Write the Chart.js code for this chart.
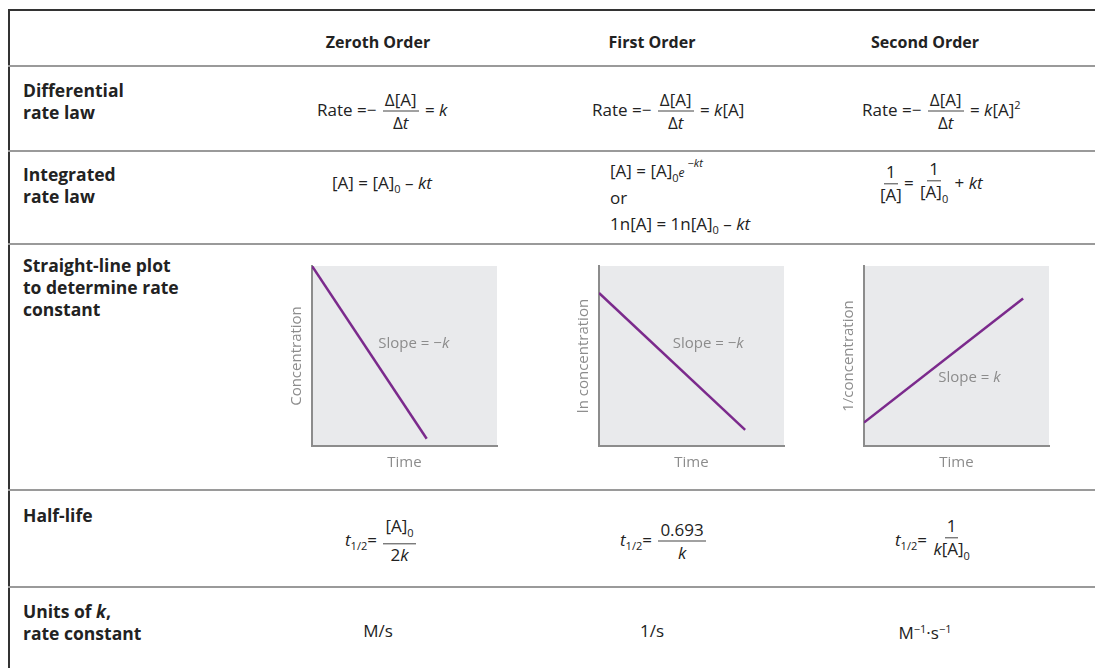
<!DOCTYPE html>
<html>
<head>
<meta charset="utf-8">
<script src="https://cdn.jsdelivr.net/npm/chart.js@4.4.3/dist/chart.umd.min.js"></script>
<style>
  html, body { margin: 0; padding: 0; background: #fff; }
  body { width: 1095px; height: 668px; position: relative; overflow: hidden;
         font-family: "Open Sans", sans-serif; color: #222; }
  .hline { position: absolute; left: 8px; right: 0; height: 2px; background: #9a9a9a; }
  .top { background: #333; }
  .vline { position: absolute; left: 8px; top: 9px; bottom: 0; width: 2px; background: #333; }
  .head { position: absolute; top: 31px; font-weight: 700; font-size: 16px; transform: translateX(-50%); white-space: nowrap; }
  .lbl { position: absolute; left: 23px; font-weight: 700; font-size: 17.5px; line-height: 22px; }
  .f { position: absolute; font-size: 17px; white-space: nowrap; transform: translate(-50%, -50%); line-height: 20px; }
  .fl { position: absolute; font-size: 17px; white-space: nowrap; transform: translateY(-50%); line-height: 20px; }
  .frac { display: inline-flex; flex-direction: column; align-items: center; vertical-align: middle; margin: 0 2px; }
  .frac > span:first-child { border-bottom: 1px solid #444; padding: 0 2px 1px; }
  .frac > span:last-child { padding-top: 1px; }
  i { font-style: italic; }
  sub, sup { font-size: 11px; }
  canvas { position: absolute; }
</style>
</head>
<body>
<div class="hline top" style="top:9px"></div>
<div class="vline"></div>
<div class="hline" style="top:65px"></div>
<div class="hline" style="top:150px"></div>
<div class="hline" style="top:243px"></div>
<div class="hline" style="top:489px"></div>
<div class="hline" style="top:586px"></div>

<div class="head" style="left:378px">Zeroth Order</div>
<div class="head" style="left:652px">First Order</div>
<div class="head" style="left:925px">Second Order</div>

<div class="lbl" style="top:79px">Differential<br>rate law</div>
<div class="lbl" style="top:163px">Integrated<br>rate law</div>
<div class="lbl" style="top:254px">Straight-line plot<br>to determine rate<br>constant</div>
<div class="lbl" style="top:504px">Half-life</div>
<div class="lbl" style="top:600px">Units of <i>k</i>,<br>rate constant</div>

<div class="fl" style="left:317px;top:111px">Rate =&minus; <span class="frac"><span>&Delta;[A]</span><span>&Delta;<i>t</i></span></span> = <i>k</i></div>
<div class="fl" style="left:592px;top:111px">Rate =&minus; <span class="frac"><span>&Delta;[A]</span><span>&Delta;<i>t</i></span></span> = <i>k</i>[A]</div>
<div class="fl" style="left:862px;top:111px">Rate =&minus; <span class="frac"><span>&Delta;[A]</span><span>&Delta;<i>t</i></span></span> = <i>k</i>[A]<sup>2</sup></div>

<div class="fl" style="left:332px;top:186px">[A] = [A]<sub>0</sub> &ndash; <i>kt</i></div>
<div class="fl" style="left:610px;top:172px">[A] = [A]<sub>0</sub><i style="font-size:12px">e</i><sup style="position:relative;top:-3px"> &minus;<i>kt</i></sup></div>
<div class="fl" style="left:610px;top:198px">or</div>
<div class="fl" style="left:610px;top:227px">1n[A] = 1n[A]<sub>0</sub> &ndash; <i>kt</i></div>
<div class="fl" style="left:878px;top:184px"><span class="frac"><span>1</span><span>[A]</span></span>= <span class="frac"><span>1</span><span>[A]<sub>0</sub></span></span> + <i>kt</i></div>

<div class="fl" style="left:345px;top:541px"><i>t</i><sub>1/2</sub>= <span class="frac"><span>[A]<sub>0</sub></span><span>2<i>k</i></span></span></div>
<div class="fl" style="left:620px;top:541px"><i>t</i><sub>1/2</sub>= <span class="frac"><span>0.693</span><span><i>k</i></span></span></div>
<div class="fl" style="left:895px;top:541px"><i>t</i><sub>1/2</sub>= <span class="frac"><span>1</span><span><i>k</i>[A]<sub>0</sub></span></span></div>

<div class="f" style="left:378px;top:631px">M/s</div>
<div class="f" style="left:652px;top:631px">1/s</div>
<div class="f" style="left:925px;top:631px">M<sup>&minus;1</sup>&middot;s<sup>&minus;1</sup></div>

<canvas id="c0" style="left:280px;top:258px" width="230" height="222"></canvas>
<canvas id="c1" style="left:567px;top:258px" width="230" height="222"></canvas>
<canvas id="c2" style="left:832px;top:258px" width="230" height="222"></canvas>

<script>
// straight-line plots, arbitrary units 0..10 on both axes
const timeZeroth = [0, 6.2];
const concZeroth = [10, 0.4];
const timeFirst = [0, 7.9];
const lnConcFirst = [8.5, 0.9];
const timeSecond = [0, 8.6];
const invConcSecond = [1.3, 8.2];

const yTitles = ["Concentration", "ln concentration", "1/concentration"];
const xTitle = "Time";
const slopeSigns = ["\u2212", "\u2212", ""];
// where the slope note sits, in data units
const slopeAt = [[5.5, 5.7], [5.9, 5.7], [5.7, 3.8]];

const GREY = "#8c8c8c";
const PURPLE = "#7b2a8c";

const plotBg = {
  id: "plotBg",
  beforeDraw(chart) {
    const { ctx, chartArea: a } = chart;
    ctx.save();
    ctx.fillStyle = "#e9eaec";
    ctx.fillRect(a.left, a.top, a.right - a.left, a.bottom - a.top);
    ctx.restore();
  },
};

const slopeNote = {
  id: "slopeNote",
  afterDatasetsDraw(chart, args, opts) {
    const { ctx, scales } = chart;
    const x = scales.x.getPixelForValue(opts.at[0]);
    const y = scales.y.getPixelForValue(opts.at[1]);
    const head = "Slope = " + opts.sign;
    ctx.save();
    ctx.fillStyle = GREY;
    ctx.textBaseline = "middle";
    ctx.font = "15px 'Open Sans'";
    const w1 = ctx.measureText(head).width;
    ctx.font = "italic 15px 'Open Sans'";
    const w2 = ctx.measureText("k").width;
    const left = x - (w1 + w2) / 2;
    ctx.font = "15px 'Open Sans'";
    ctx.fillText(head, left, y);
    ctx.font = "italic 15px 'Open Sans'";
    ctx.fillText("k", left + w1, y);
    ctx.restore();
  },
};

function makePlot(id, xs, ys, i) {
  const pts = xs.map((x, j) => ({ x, y: ys[j] }));
  new Chart(document.getElementById(id), {
    type: "scatter",
    data: {
      datasets: [{
        data: pts,
        showLine: true,
        borderColor: PURPLE,
        borderWidth: 2.5,
        pointRadius: 0,
      }],
    },
    options: {
      responsive: false,
      animation: false,
      layout: { padding: { left: 5, top: 8, right: 13, bottom: 4 } },
      scales: {
        x: {
          min: 0, max: 10,
          ticks: { display: false },
          grid: { display: false, drawTicks: false },
          border: { display: true, color: GREY, width: 2 },
          title: { display: true, text: xTitle, color: GREY, font: { family: "Open Sans", size: 15 }, padding: { top: 8, bottom: 4 } },
        },
        y: {
          min: 0, max: 10,
          ticks: { display: false },
          grid: { display: false, drawTicks: false },
          border: { display: true, color: GREY, width: 2 },
          title: { display: true, text: yTitles[i], color: GREY, font: { family: "Open Sans", size: 15 }, padding: { top: 3, bottom: 6 } },
        },
      },
      plugins: {
        legend: { display: false },
        tooltip: { enabled: false },
        slopeNote: { at: slopeAt[i], sign: slopeSigns[i] },
      },
    },
    plugins: [plotBg, slopeNote],
  });
}

makePlot("c0", timeZeroth, concZeroth, 0);
makePlot("c1", timeFirst, lnConcFirst, 1);
makePlot("c2", timeSecond, invConcSecond, 2);
</script>
</body>
</html>
